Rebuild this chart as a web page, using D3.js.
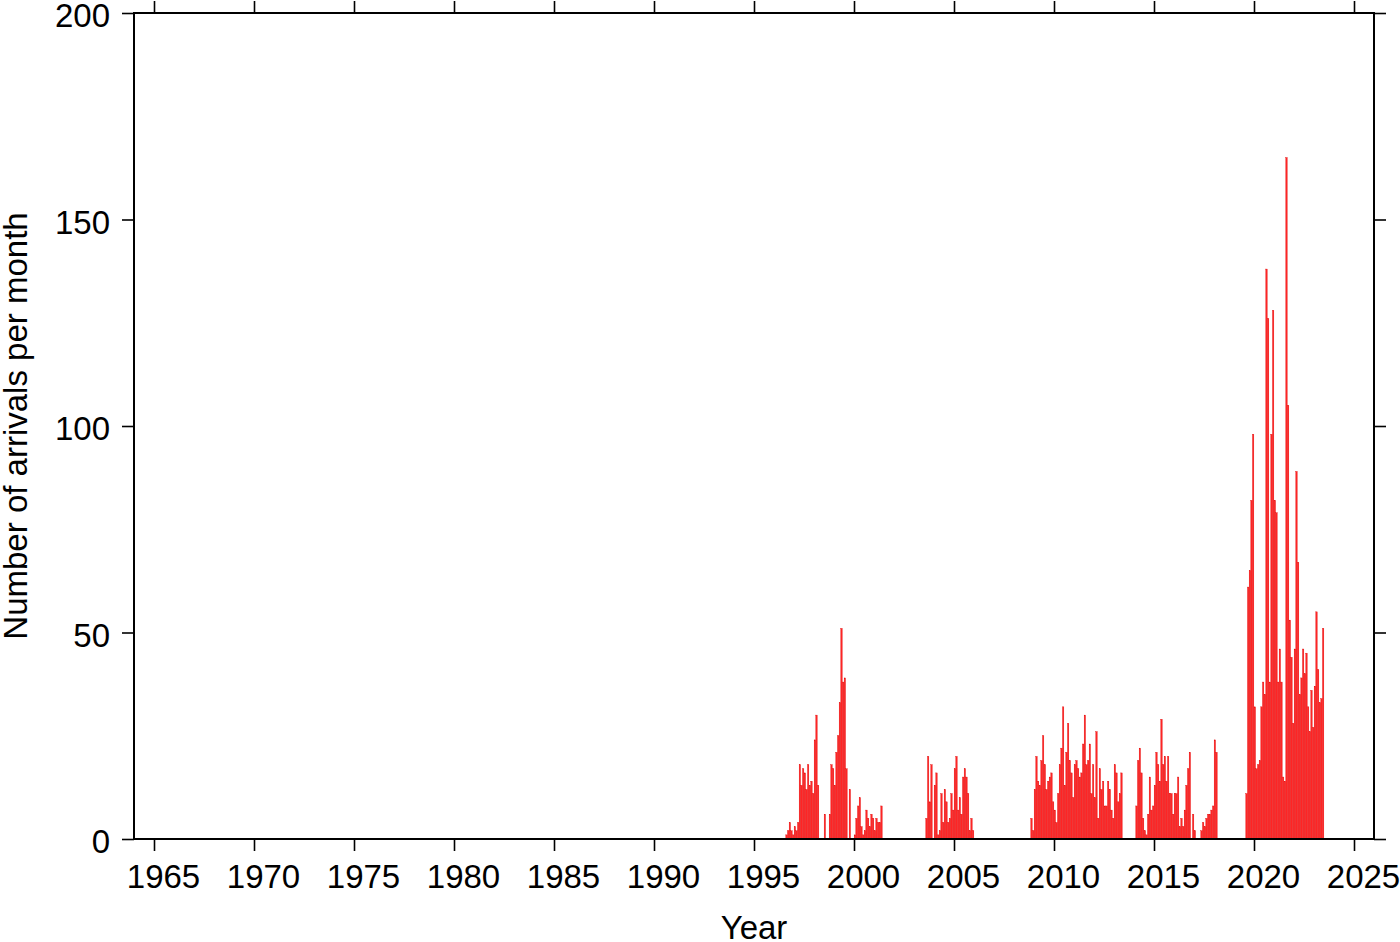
<!DOCTYPE html>
<html>
<head>
<meta charset="utf-8">
<script src="https://cdn.jsdelivr.net/npm/d3@7"></script>
<style>
  body { margin: 0; background: #fff; }
  svg { display: block; }
  text { font-family: "Liberation Sans", Arial, Helvetica, sans-serif; fill: #000; }
</style>
</head>
<body>
<svg id="chart" width="1400" height="942"></svg>
<script>
// ---- tick labels ----
const xTicks = [1965, 1970, 1975, 1980, 1985, 1990, 1995, 2000, 2005, 2010, 2015, 2020, 2025];
const yTicks = [0, 50, 100, 150, 200];

// ---- monthly arrival counts (each run of consecutive months with its first month) ----
const start1996 = "1996-08";
const counts1996 = [1, 2, 4, 2, 1, 3, 2, 4, 18, 13, 17, 16, 12, 18, 13, 14, 11, 24, 30, 13,
                    0, 0, 0, 6, 0, 0, 6, 18, 17, 13, 21, 25, 33, 51, 38, 39, 17, 0, 12, 0,
                    0, 1, 5, 8, 10, 3, 1, 2, 7, 5, 3, 6, 5, 2, 5, 4, 4, 8];

const start2003 = "2003-08";
const counts2003 = [5, 20, 9, 18, 0, 13, 16, 1, 2, 11, 4, 12, 9, 4, 5, 11, 7, 17, 20, 7,
                    10, 6, 15, 17, 15, 11, 2, 5, 2];

const start2008 = "2008-11";
const counts2008 = [5, 2, 12, 20, 14, 13, 19, 25, 18, 12, 14, 15, 16, 9, 7, 4, 11, 18, 22, 32,
                    13, 21, 28, 19, 16, 10, 18, 19, 17, 15, 16, 23, 30, 18, 19, 23, 11, 18, 10, 26,
                    5, 17, 12, 14, 8, 8, 14, 12, 7, 5, 18, 16, 9, 11, 16];

const start2014 = "2014-02";
const counts2014 = [8, 19, 22, 16, 5, 2, 1, 6, 15, 7, 8, 13, 21, 18, 14, 29, 18, 20, 14, 20,
                    11, 11, 6, 11, 11, 15, 3, 5, 3, 7, 13, 17, 21, 0, 6, 2, 0, 0, 0, 2,
                    4, 3, 5, 6, 6, 7, 8, 24, 21];

const start2019 = "2019-08";
const counts2019 = [11, 61, 65, 82, 98, 32, 17, 18, 19, 32, 38, 35, 138, 126, 38, 98, 128, 82, 79, 38,
                    46, 38, 15, 14, 165, 105, 53, 44, 28, 46, 89, 67, 35, 39, 46, 40, 45, 32, 26, 36,
                    27, 37, 55, 41, 33, 34, 51];

const runs = [
  { start: start1996, values: counts1996 },
  { start: start2003, values: counts2003 },
  { start: start2008, values: counts2008 },
  { start: start2014, values: counts2014 },
  { start: start2019, values: counts2019 }
];

// each bar sits at the middle of its month
const bars = [];
runs.forEach(r => {
  const [yy, mm] = r.start.split("-").map(Number);
  r.values.forEach((v, i) => {
    const mi = (mm - 1) + i;
    bars.push({ t: yy + (mi + 0.5) / 12, v: v });
  });
});

// ---- layout ----
const svg = d3.select("#chart");
const plotL = 134, plotR = 1374, plotT = 13, plotB = 839;
const fontSize = 33;

const x = d3.scaleLinear().domain([1964, 2026]).range([plotL, plotR]);
const y = d3.scaleLinear().domain([0, 200]).range([plotB, plotT]);

const monthW = x(1964 + 1 / 12) - x(1964);
const bw = monthW * 0.82;

// bars
svg.append("g")
  .selectAll("rect")
  .data(bars.filter(d => d.v > 0))
  .join("rect")
  .attr("x", d => x(d.t) - bw / 2)
  .attr("y", d => y(d.v))
  .attr("width", bw)
  .attr("height", d => y(0) - y(d.v))
  .attr("fill", "#ff2424")
  .attr("stroke", "#e00000")
  .attr("stroke-width", 0.35);

// axes
const tickLen = 12;
function styleAxis(g) {
  g.select(".domain").remove();
  g.selectAll(".tick line").attr("stroke", "#000").attr("stroke-width", 1.6);
  g.selectAll("text").style("font-size", fontSize + "px").attr("fill", "#000");
}

const gx = svg.append("g")
  .attr("transform", `translate(0,${plotB})`)
  .call(d3.axisBottom(x).tickValues(xTicks).tickFormat(d3.format("d")).tickSize(tickLen))
  .call(styleAxis);
gx.selectAll("text").attr("y", 49).attr("dy", null).attr("dx", 9);

svg.append("g")
  .attr("transform", `translate(0,${plotT})`)
  .call(d3.axisTop(x).tickValues(xTicks).tickFormat("").tickSize(tickLen))
  .call(styleAxis);

const gy = svg.append("g")
  .attr("transform", `translate(${plotL},0)`)
  .call(d3.axisLeft(y).tickValues(yTicks).tickFormat(d3.format("d")).tickSize(tickLen))
  .call(styleAxis);
gy.selectAll("text").attr("x", -24).attr("dy", "0.42em");

svg.append("g")
  .attr("transform", `translate(${plotR},0)`)
  .call(d3.axisRight(y).tickValues(yTicks).tickFormat("").tickSize(tickLen))
  .call(styleAxis);

// frame
svg.append("rect")
  .attr("x", plotL).attr("y", plotT)
  .attr("width", plotR - plotL).attr("height", plotB - plotT)
  .attr("fill", "none").attr("stroke", "#000").attr("stroke-width", 2);

// axis titles
svg.append("text")
  .attr("x", (plotL + plotR) / 2).attr("y", 939)
  .attr("text-anchor", "middle")
  .style("font-size", fontSize + "px")
  .text("Year");

svg.append("text")
  .attr("transform", `translate(27,${(plotT + plotB) / 2}) rotate(-90)`)
  .attr("text-anchor", "middle")
  .style("font-size", fontSize + "px")
  .text("Number of arrivals per month");
</script>
</body>
</html>
